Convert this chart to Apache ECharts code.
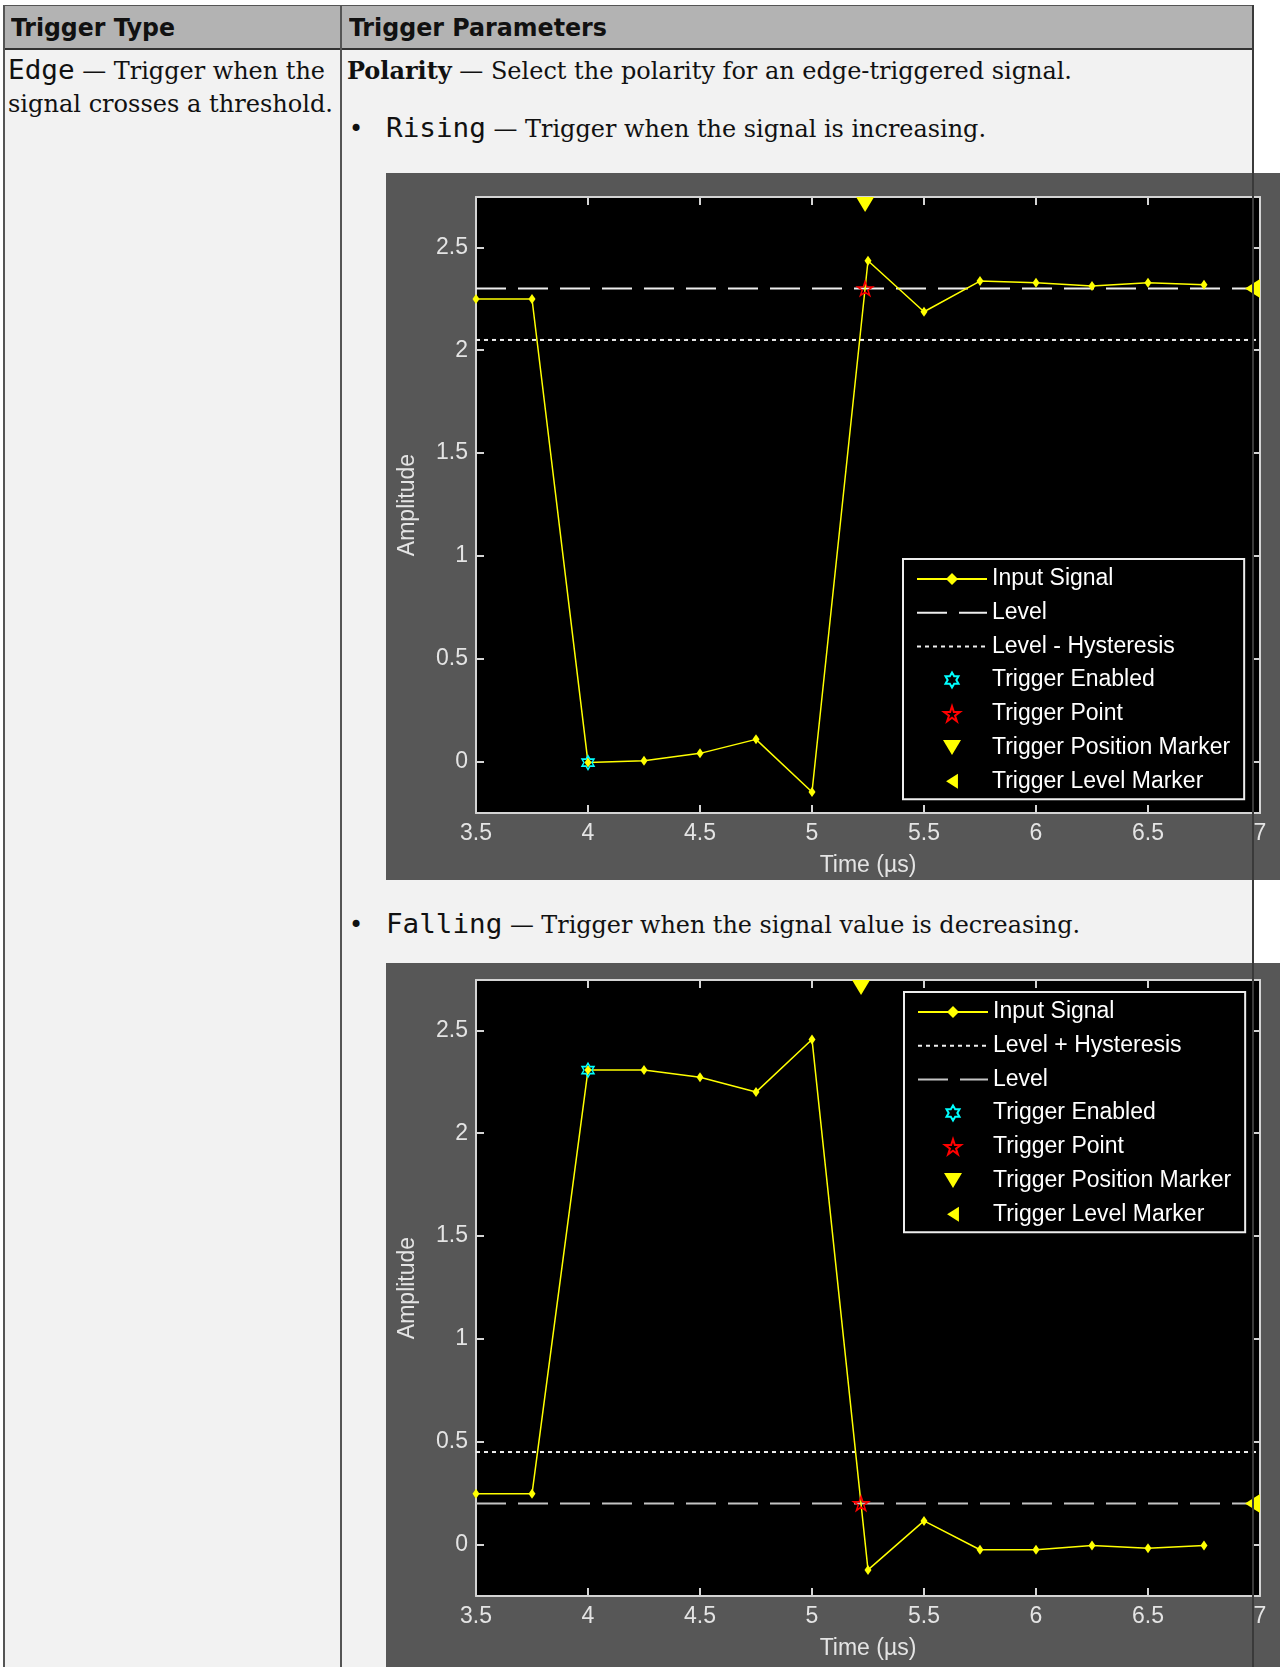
<!DOCTYPE html>
<html>
<head>
<meta charset="utf-8">
<script src="https://cdn.jsdelivr.net/npm/echarts@6/dist/echarts.min.js"></script>
<style>
  html, body { margin: 0; padding: 0; background: #ffffff; }
  body { width: 1280px; height: 1667px; position: relative; overflow: hidden; }
  .abs { position: absolute; }
  .t { position: absolute; white-space: nowrap; line-height: 1; color: #111; transform-origin: 0 0; }
  .serif { font-family: 'DejaVu Serif', serif; font-stretch: condensed; font-size: 25px; }
  .mono { font-family: 'DejaVu Sans Mono', monospace; font-size: 26px; font-stretch: normal; }
  .hdr { font-family: 'DejaVu Sans', sans-serif; font-weight: bold; font-stretch: condensed; font-size: 25px; }
  .bul { font-family: 'DejaVu Sans', sans-serif; font-size: 24px; }
  .bmark { display: inline-block; width: 0; height: 0; }
</style>
</head>
<body>
<!-- table backgrounds -->
<div class="abs" style="left:4px;top:5px;width:1250px;height:44px;background:#b3b3b3;border-top:1px solid #555;"></div>
<div class="abs" style="left:4px;top:48px;width:1250px;height:2px;background:#333;"></div>
<div class="abs" style="left:4px;top:50px;width:1250px;height:1617px;background:#f2f2f2;"></div>
<div class="abs" style="left:3px;top:5px;width:2px;height:1662px;background:#555;"></div>
<div class="abs" style="left:340px;top:5px;width:2px;height:1662px;background:#555;"></div>

<!-- texts -->
<div class="t hdr fit" data-x="11" data-base="36" data-w="164">Trigger Type</div>
<div class="t hdr fit" data-x="349" data-base="36" data-w="258">Trigger Parameters</div>
<div class="t serif fit" data-x="8" data-base="79" data-w="317"><span class="mono">Edge</span> — Trigger when the</div>
<div class="t serif fit" data-x="8" data-base="112" data-w="325">signal crosses a threshold.</div>
<div class="t serif fit" data-x="347" data-base="79" data-w="725"><b>Polarity</b> — Select the polarity for an edge-triggered signal.</div>
<div class="t bul" data-x="349" data-base="137">•</div>
<div class="t serif fit" data-x="386" data-base="137" data-w="600"><span class="mono">Rising</span> — Trigger when the signal is increasing.</div>
<div class="t bul" data-x="349" data-base="933">•</div>
<div class="t serif fit" data-x="386" data-base="933" data-w="694"><span class="mono">Falling</span> — Trigger when the signal value is decreasing.</div>

<!-- charts -->
<div id="c1" class="abs" style="left:386px;top:173px;width:894px;height:707px;"></div>
<div id="c2" class="abs" style="left:386px;top:963px;width:894px;height:704px;"></div>

<!-- right table border drawn over charts -->
<div class="abs" style="left:1252px;top:5px;width:2px;height:1662px;background:#3a3a3a;z-index:10;"></div>

<script>
// ---------------- data ----------------
const xTimes = [3.5, 3.75, 4, 4.25, 4.5, 4.75, 5, 5.25, 5.5, 5.75, 6, 6.25, 6.5, 6.75];
const risingSignal = [2.249, 2.249, -0.005, 0.004, 0.04, 0.108, -0.148, 2.435, 2.187, 2.336, 2.328, 2.312, 2.328, 2.318];
const fallingSignal = [0.247, 0.247, 2.307, 2.307, 2.272, 2.200, 2.456, -0.123, 0.115, -0.025, -0.025, -0.005, -0.018, -0.005];
const risingLevel = 2.3;
const risingHysteresisLine = 2.05;
const fallingLevel = 0.2;
const fallingHysteresisLine = 0.45;
const risingEnabledPoint = [4.0, -0.005];
const risingTriggerPoint = [5.237, 2.3];
const fallingEnabledPoint = [4.0, 2.307];
const fallingTriggerPoint = [5.219, 0.2];
const xRange = [3.5, 7];
const yRange = [-0.25, 2.745];
const yTickValues = [0, 0.5, 1, 1.5, 2, 2.5];
const risingLegend = ['Input Signal', 'Level', 'Level - Hysteresis', 'Trigger Enabled', 'Trigger Point', 'Trigger Position Marker', 'Trigger Level Marker'];
const fallingLegend = ['Input Signal', 'Level + Hysteresis', 'Level', 'Trigger Enabled', 'Trigger Point', 'Trigger Position Marker', 'Trigger Level Marker'];

// ---------------- text layout fitting ----------------
document.querySelectorAll('.t').forEach(el => {
  const m = document.createElement('span');
  m.className = 'bmark';
  el.appendChild(m);
  el.style.left = el.dataset.x + 'px';
  el.style.top = '0px';
  const r = el.getBoundingClientRect();
  const off = m.getBoundingClientRect().bottom - r.top;
  el.style.top = (+el.dataset.base - off) + 'px';
  if (el.classList.contains('fit')) {
    el.style.transform = 'scaleX(' + (+el.dataset.w / r.width) + ')';
  }
});

// ---------------- chart ----------------
const FONT = "'Liberation Sans', Arial, sans-serif";
const AX = '#d4d4d4';
const LBL = '#e4e4e4';
const hexagram = 'path://M10,0 L7.113,5 L1.34,5 L4.23,10 L1.34,15 L7.113,15 L10,20 L12.887,15 L18.66,15 L15.77,10 L18.66,5 L12.887,5 Z';
const pentagram = 'path://M10,0 L7.755,6.91 L0.49,6.91 L6.367,11.18 L4.122,18.09 L10,13.82 L15.878,18.09 L13.633,11.18 L19.51,6.91 L12.245,6.91 Z';
const downTri = 'path://M0,0 L18,0 L9,15 Z';
const leftTri = 'path://M15,0 L15,19 L0,9.5 Z';

function axisCommon(pos) {
  return {
    type: 'value', position: pos,
    axisLine: { show: true, onZero: false, lineStyle: { color: AX, width: 2 } },
    axisTick: { show: true, inside: true, length: 8, lineStyle: { color: AX, width: 2 } },
    splitLine: { show: false }
  };
}

function buildOption(cfg) {
  const sig = xTimes.map((x, i) => [x, cfg.signal[i]]);
  const xAxisB = Object.assign(axisCommon('bottom'), {
    min: xRange[0], max: xRange[1], interval: 0.5,
    name: 'Time (µs)', nameLocation: 'middle', nameGap: 41,
    nameTextStyle: { color: LBL, fontSize: 23, fontFamily: FONT },
    axisLabel: { color: LBL, fontSize: 23, fontFamily: FONT, margin: 9 }
  });
  const xAxisT = Object.assign(axisCommon('top'), {
    min: xRange[0], max: xRange[1], interval: 0.5, axisLabel: { show: false }
  });
  const yAxisL = Object.assign(axisCommon('left'), {
    min: yRange[0], max: yRange[1],
    name: 'Amplitude', nameLocation: 'middle', nameGap: 57, nameRotate: 90,
    nameTextStyle: { color: LBL, fontSize: 23, fontFamily: FONT },
    axisLabel: { color: LBL, fontSize: 23, fontFamily: FONT, margin: 8, customValues: yTickValues },
  });
  yAxisL.axisTick.customValues = yTickValues;
  const yAxisR = Object.assign(axisCommon('right'), {
    min: yRange[0], max: yRange[1], axisLabel: { show: false, customValues: yTickValues }
  });
  yAxisR.axisTick.customValues = yTickValues;

  const legendData = cfg.legend.map(n => (n.indexOf('Level') === 0 ? { name: n, itemStyle: { opacity: 0 } } : n));

  return {
    animation: false,
    backgroundColor: '#575757',
    textStyle: { fontFamily: FONT },
    grid: { left: 90, top: cfg.gridTop, width: 784, height: 616, show: true, backgroundColor: '#000', borderWidth: 0, outerBoundsMode: 'none', containLabel: false },
    xAxis: [xAxisB, xAxisT],
    yAxis: [yAxisL, yAxisR],
    legend: {
      orient: 'vertical', left: cfg.legendLeft, top: cfg.legendTop,
      backgroundColor: '#000', borderColor: '#eeeeee', borderWidth: 2, borderRadius: 0,
      padding: [8, 14, 6, 13], itemWidth: 70, itemHeight: 15, itemGap: 9.7,
      selectedMode: false,
      textStyle: { color: '#ffffff', fontSize: 23, lineHeight: 24, fontFamily: FONT },
      data: legendData
    },
    series: [
      { name: cfg.levelName, type: 'line', data: [[xRange[0], cfg.level], [xRange[1], cfg.level]], symbol: 'none',
        lineStyle: { color: cfg.levelColor, width: 2, type: [30, 12] }, itemStyle: { color: cfg.levelColor }, z: 2, silent: true },
      { name: cfg.hystName, type: 'line', data: [[xRange[0], cfg.hyst], [xRange[1], cfg.hyst]], symbol: 'none',
        lineStyle: { color: '#eeeeee', width: 2, type: [4, 4] }, itemStyle: { color: '#eeeeee' }, z: 2, silent: true },
      { name: 'Input Signal', type: 'line', data: sig, symbol: 'diamond', symbolSize: [7, 10],
        lineStyle: { color: '#ffff00', width: 1.5 }, itemStyle: { color: '#ffff00', opacity: 1 }, z: 3 },
      { name: 'Trigger Enabled', type: 'scatter', data: [cfg.enabled], symbol: hexagram, symbolSize: [12, 14],
        itemStyle: { color: 'rgba(0,0,0,0)', borderColor: '#00ffff', borderWidth: 1.5, opacity: 1 }, z: 5 },
      { name: 'Trigger Point', type: 'scatter', data: [cfg.trigger], symbol: pentagram, symbolSize: [15, 14],
        itemStyle: { color: 'rgba(0,0,0,0)', borderColor: '#ff0000', borderWidth: 1.5, opacity: 1 }, z: 5 },
      { name: 'Trigger Position Marker', type: 'scatter', data: [[cfg.trigger[0], yRange[1]]], symbol: downTri,
        symbolSize: [18, 15], symbolOffset: [0, 7.5], clip: false, itemStyle: { color: '#ffff00', opacity: 1 }, z: 6 },
      { name: 'Trigger Level Marker', type: 'scatter', data: [[xRange[1], cfg.level]], symbol: leftTri,
        symbolSize: [15, 19], symbolOffset: [-7.5, 0], clip: false, itemStyle: { color: '#ffff00', opacity: 1 }, z: 6 }
    ]
  };
}

const c1 = echarts.init(document.getElementById('c1'), null, { renderer: 'canvas' });
c1.setOption(buildOption({
  signal: risingSignal, level: risingLevel, hyst: risingHysteresisLine,
  levelName: 'Level', hystName: 'Level - Hysteresis', levelColor: '#eeeeee',
  enabled: risingEnabledPoint, trigger: risingTriggerPoint,
  legend: risingLegend, gridTop: 24, legendLeft: 517, legendTop: 386
}));
const c2 = echarts.init(document.getElementById('c2'), null, { renderer: 'canvas' });
c2.setOption(buildOption({
  signal: fallingSignal, level: fallingLevel, hyst: fallingHysteresisLine,
  levelName: 'Level', hystName: 'Level + Hysteresis', levelColor: '#c4c4c4',
  enabled: fallingEnabledPoint, trigger: fallingTriggerPoint,
  legend: fallingLegend, gridTop: 17, legendLeft: 518, legendTop: 29
}));
</script>
</body>
</html>
